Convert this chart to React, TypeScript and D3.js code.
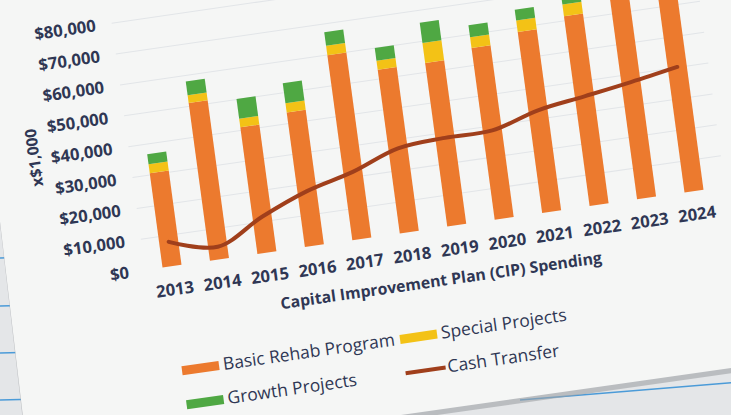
import React, { useRef, useEffect } from "react";
import * as d3 from "d3";

// values (x $1,000 units shown as dollars)
const years = ["2013", "2014", "2015", "2016", "2017", "2018", "2019", "2020", "2021", "2022", "2023", "2024"];
const basicRehab = [30600, 51100, 41000, 43600, 59900, 53000, 53000, 55600, 58600, 61500, 66000, 67000];
const specialProjects = [2900, 2500, 2800, 3000, 3100, 2950, 6500, 3500, 3700, 3800, 3800, 4000];
const growthProjects = [3250, 4500, 6350, 6500, 4400, 4100, 6500, 3900, 3550, 3700, 3800, 4000];
const cashTransfer = [7900, 4100, 11600, 17700, 21700, 27100, 28300, 28500, 32800, 35100, 37500, 40200];
const yTicks = [0, 10000, 20000, 30000, 40000, 50000, 60000, 70000, 80000];

const seriesKeys = ["basic", "special", "growth"];
const seriesColors = { basic: "#ec7a2e", special: "#f3c216", growth: "#4fa843" };
const lineColor = "#a03f1b";
const textColor = "#2f3754";
const font = "'Open Sans', 'DejaVu Sans', sans-serif";

const W = 731;
const H = 415;

const App = () => {
  const svgRef = useRef(null);

  useEffect(() => {
    const svg = d3.select(svgRef.current).attr("width", W).attr("height", H);
    svg.selectAll("*").remove();

    // --- photo background: desk / notebook / paper sheet
    svg.append("rect").attr("width", W).attr("height", H).attr("fill", "#e4e6e8");
    [258, 306, 353, 400].forEach((y) => {
      svg.append("line").attr("x1", 0).attr("x2", 40).attr("y1", y).attr("y2", y - 1)
        .attr("stroke", "#4b9bd8").attr("stroke-width", 1.5);
    });
    svg.append("line").attr("x1", 520).attr("y1", 400).attr("x2", 740).attr("y2", 382)
      .attr("stroke", "#4b9bd8").attr("stroke-width", 1.5);
    svg.append("path").attr("d", "M-26,0 L740,0 L740,372 L29,473 Z").attr("fill", "#9fa2a5").attr("opacity", 0.6);
    svg.append("path").attr("d", "M-26,0 L740,0 L740,366.7 L29,468 Z").attr("fill", "#f5f6f5");

    // --- chart, drawn flat then tilted like the photo
    const px = 132;
    const py = 272;
    const g = svg
      .append("g")
      .attr("transform", `translate(${px},${py}) matrix(1,-0.144,0.135,1,0,0) translate(${-px},${-py})`);

    const x = d3.scalePoint().domain(years).range([172, 694]);
    const barW = 19;
    const y = d3.scaleLinear().domain([0, 80000]).range([272, 25]);

    // faint gridlines
    g.selectAll(".grid")
      .data(yTicks.slice(1))
      .enter()
      .append("line")
      .attr("x1", 145)
      .attr("x2", 725)
      .attr("y1", (d) => y(d))
      .attr("y2", (d) => y(d))
      .attr("stroke", "#e2e5e8")
      .attr("stroke-width", 1);

    // y axis labels
    g.selectAll(".ylab")
      .data(yTicks)
      .enter()
      .append("text")
      .attr("x", 129)
      .attr("y", (d) => y(d))
      .attr("dy", "0.35em")
      .attr("text-anchor", "end")
      .attr("font-family", font)
      .attr("font-weight", 700)
      .attr("font-size", 16.5)
      .attr("fill", textColor)
      .text((d) => d3.format("$,")(d));

    g.append("text")
      .attr("transform", `translate(51,146) rotate(-90)`)
      .attr("text-anchor", "middle")
      .attr("dy", "0.35em")
      .attr("font-family", font)
      .attr("font-weight", 700)
      .attr("font-size", 15.5)
      .attr("fill", textColor)
      .text("x$1,000");

    // stacked bars
    const table = years.map((yr, i) => ({
      year: yr,
      basic: basicRehab[i],
      special: specialProjects[i],
      growth: growthProjects[i],
    }));
    const stacked = d3.stack().keys(seriesKeys)(table);

    g.selectAll(".layer")
      .data(stacked)
      .enter()
      .append("g")
      .attr("fill", (d) => seriesColors[d.key])
      .selectAll("rect")
      .data((d) => d)
      .enter()
      .append("rect")
      .attr("x", (d) => x(d.data.year) - barW / 2)
      .attr("y", (d) => y(d[1]))
      .attr("width", barW)
      .attr("height", (d) => y(d[0]) - y(d[1]));

    // cash transfer line
    const line = d3
      .line()
      .x((d, i) => x(years[i]))
      .y((d) => y(d))
      .curve(d3.curveCatmullRom.alpha(0.5));

    g.append("path")
      .datum(cashTransfer)
      .attr("d", line)
      .attr("fill", "none")
      .attr("stroke", lineColor)
      .attr("stroke-width", 4)
      .attr("stroke-linecap", "round");

    // x axis labels
    g.selectAll(".xlab")
      .data(years)
      .enter()
      .append("text")
      .attr("x", (d) => x(d))
      .attr("y", 295)
      .attr("dy", "0.35em")
      .attr("text-anchor", "middle")
      .attr("font-family", font)
      .attr("font-weight", 700)
      .attr("font-size", 16.5)
      .attr("fill", textColor)
      .text((d) => d);

    g.append("text")
      .attr("x", 434)
      .attr("y", 324)
      .attr("dy", "0.35em")
      .attr("text-anchor", "middle")
      .attr("font-family", font)
      .attr("font-weight", 700)
      .attr("font-size", 15.7)
      .attr("fill", textColor)
      .text("Capital Improvement Plan (CIP) Spending");

    // legend
    const legendItems = [
      { label: "Basic Rehab Program", color: seriesColors.basic, kind: "box", lx: 168, ly: 376 },
      { label: "Special Projects", color: seriesColors.special, kind: "box", lx: 386, ly: 376 },
      { label: "Growth Projects", color: seriesColors.growth, kind: "box", lx: 168, ly: 410 },
      { label: "Cash Transfer", color: lineColor, kind: "line", lx: 386, ly: 410 },
    ];
    const lg = g.selectAll(".legend").data(legendItems).enter().append("g")
      .attr("transform", (d) => `translate(${d.lx},${d.ly})`);
    lg.filter((d) => d.kind === "box")
      .append("rect")
      .attr("x", 0)
      .attr("y", -4.5)
      .attr("width", 37)
      .attr("height", 9)
      .attr("fill", (d) => d.color);
    lg.filter((d) => d.kind === "line")
      .append("line")
      .attr("x1", 1)
      .attr("x2", 41)
      .attr("y1", 0)
      .attr("y2", 0)
      .attr("stroke", (d) => d.color)
      .attr("stroke-width", 4);
    lg.append("text")
      .attr("x", (d) => (d.kind === "line" ? 43 : 41))
      .attr("y", 0)
      .attr("dy", "0.3em")
      .attr("font-family", font)
      .attr("font-size", 17.3)
      .attr("fill", textColor)
      .text((d) => d.label);
  }, []);

  return (
    <svg
      ref={svgRef}
      style={{ position: "absolute", left: 0, top: 0, display: "block" }}
    ></svg>
  );
};

export default App;
